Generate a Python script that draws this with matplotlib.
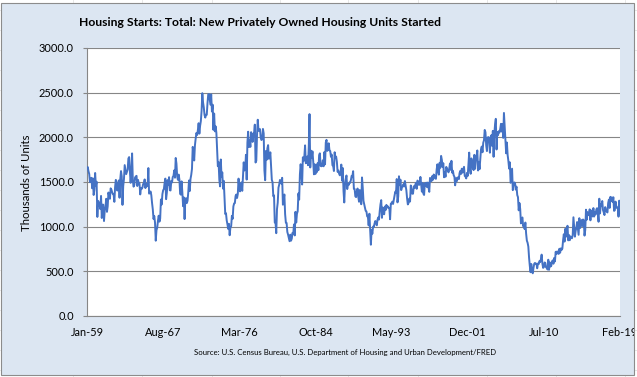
import numpy as np
import pandas as pd
import matplotlib
matplotlib.use("Agg")
import matplotlib.pyplot as plt
from matplotlib.patches import Rectangle

# monthly housing starts, thousands of units (SAAR), Jan-1959 .. Feb-2019
first_month = "1959-01"
housing_starts = [
    1657, 1667, 1620, 1590, 1498, 1503, 1547, 1430, 1540, 1355, 1416, 1601,  # 1959
    1460, 1503, 1109, 1289, 1271, 1247, 1197, 1344, 1097, 1246, 1246, 1063,  # 1960
    1183, 1226, 1312, 1166, 1228, 1382, 1335, 1312, 1429, 1415, 1385, 1365,  # 1961
    1361, 1278, 1443, 1524, 1483, 1404, 1450, 1517, 1324, 1533, 1622, 1564,  # 1962
    1244, 1456, 1534, 1689, 1641, 1588, 1614, 1639, 1763, 1779, 1622, 1491,  # 1963
    1603, 1820, 1517, 1448, 1467, 1550, 1562, 1569, 1455, 1524, 1486, 1484,  # 1964
    1361, 1433, 1423, 1438, 1478, 1488, 1529, 1432, 1482, 1452, 1460, 1656,  # 1965
    1370, 1378, 1394, 1352, 1265, 1194, 1086, 1119, 1046, 843, 961, 990,     # 1966
    1067, 1123, 1056, 1091, 1304, 1248, 1364, 1407, 1421, 1491, 1538, 1308,  # 1967
    1380, 1520, 1466, 1554, 1408, 1405, 1512, 1495, 1556, 1569, 1630, 1548,  # 1968
    1769, 1705, 1561, 1524, 1583, 1528, 1368, 1358, 1507, 1381, 1229, 1327,  # 1969
    1085, 1305, 1319, 1264, 1290, 1385, 1517, 1399, 1534, 1580, 1647, 1893,  # 1970
    1828, 1741, 1910, 1986, 2049, 2026, 2083, 2158, 2041, 2128, 2182, 2295,  # 1971
    2494, 2390, 2334, 2249, 2221, 2254, 2252, 2382, 2481, 2485, 2421, 2366,  # 1972
    2481, 2289, 2365, 2084, 2266, 2067, 2123, 2051, 1874, 1677, 1724, 1526,  # 1973
    1451, 1752, 1555, 1607, 1426, 1513, 1316, 1142, 1150, 1070, 1026, 975,   # 1974
    1032, 904, 993, 1005, 1121, 1087, 1226, 1260, 1264, 1344, 1360, 1321,    # 1975
    1367, 1538, 1421, 1395, 1459, 1495, 1401, 1550, 1720, 1629, 1641, 1804,  # 1976
    1527, 1943, 2063, 1892, 1971, 1893, 2058, 2020, 1949, 2042, 2042, 2142,  # 1977
    1718, 1738, 2032, 2197, 2075, 2070, 2092, 1996, 1970, 1981, 2094, 2044,  # 1978
    1630, 1520, 1847, 1748, 1876, 1913, 1760, 1778, 1832, 1681, 1524, 1498,  # 1979
    1341, 1350, 1047, 1051, 927, 1196, 1269, 1436, 1471, 1523, 1510, 1482,   # 1980
    1547, 1246, 1306, 1360, 1140, 1045, 1041, 940, 911, 873, 837, 910,       # 1981
    843, 866, 931, 917, 1025, 902, 1166, 1046, 1144, 1173, 1372, 1303,       # 1982
    1586, 1699, 1606, 1472, 1776, 1733, 1785, 1910, 1710, 1715, 1785, 1688,  # 1983
    1897, 2260, 1663, 1851, 1774, 1843, 1732, 1586, 1698, 1590, 1689, 1612,  # 1984
    1711, 1632, 1800, 1821, 1680, 1676, 1684, 1743, 1676, 1834, 1698, 1942,  # 1985
    1972, 1848, 1876, 1933, 1854, 1847, 1782, 1807, 1687, 1681, 1623, 1833,  # 1986
    1774, 1784, 1726, 1614, 1628, 1594, 1575, 1605, 1695, 1515, 1656, 1400,  # 1987
    1271, 1473, 1532, 1573, 1421, 1478, 1467, 1493, 1492, 1522, 1569, 1563,  # 1988
    1621, 1425, 1422, 1339, 1331, 1397, 1427, 1332, 1279, 1410, 1351, 1251,  # 1989
    1551, 1437, 1289, 1248, 1212, 1177, 1171, 1115, 1110, 1014, 1145, 969,   # 1990
    798, 965, 921, 1001, 996, 1036, 1063, 1049, 1015, 1079, 1103, 1079,      # 1991
    1176, 1250, 1297, 1099, 1214, 1145, 1139, 1226, 1186, 1244, 1214, 1227,  # 1992
    1210, 1210, 1083, 1258, 1260, 1280, 1254, 1300, 1343, 1392, 1376, 1533,  # 1993
    1272, 1337, 1564, 1465, 1526, 1409, 1439, 1450, 1474, 1450, 1511, 1455,  # 1994
    1407, 1316, 1249, 1267, 1314, 1281, 1461, 1416, 1369, 1369, 1452, 1431,  # 1995
    1467, 1491, 1424, 1516, 1504, 1467, 1472, 1557, 1475, 1392, 1489, 1370,  # 1996
    1355, 1486, 1457, 1492, 1442, 1494, 1437, 1390, 1546, 1520, 1510, 1566,  # 1997
    1525, 1584, 1567, 1540, 1536, 1641, 1698, 1614, 1582, 1715, 1660, 1792,  # 1998
    1748, 1670, 1710, 1553, 1611, 1559, 1669, 1648, 1635, 1608, 1648, 1708,  # 1999
    1636, 1737, 1604, 1626, 1575, 1559, 1463, 1541, 1507, 1549, 1551, 1532,  # 2000
    1600, 1625, 1590, 1649, 1605, 1636, 1670, 1567, 1562, 1540, 1602, 1568,  # 2001
    1698, 1829, 1642, 1592, 1764, 1717, 1655, 1633, 1804, 1648, 1753, 1788,  # 2002
    1853, 1629, 1726, 1643, 1751, 1867, 1897, 1833, 1939, 1967, 2083, 2057,  # 2003
    1911, 1846, 1998, 2003, 1981, 1828, 2002, 2024, 1905, 2072, 1782, 2042,  # 2004
    2144, 2207, 1864, 2061, 2025, 2068, 2054, 2095, 2151, 2065, 2147, 1994,  # 2005
    2273, 2119, 1969, 1821, 1942, 1802, 1737, 1650, 1720, 1491, 1570, 1649,  # 2006
    1409, 1480, 1495, 1490, 1415, 1448, 1354, 1330, 1183, 1264, 1197, 1037,  # 2007
    1084, 1103, 1005, 1013, 973, 1046, 923, 844, 820, 777, 652, 560,         # 2008
    490, 582, 505, 478, 540, 585, 594, 586, 585, 534, 588, 581,              # 2009
    614, 604, 636, 687, 588, 539, 546, 599, 594, 543, 545, 520,              # 2010
    630, 517, 600, 554, 561, 608, 623, 585, 650, 611, 719, 694,              # 2011
    723, 704, 695, 753, 708, 757, 740, 754, 847, 915, 833, 976,              # 2012
    888, 962, 1010, 847, 907, 848, 891, 883, 870, 903, 1105, 1003,           # 2013
    888, 952, 992, 1052, 985, 909, 1095, 984, 1022, 1074, 1007, 1080,        # 2014
    1071, 900, 963, 1190, 1078, 1163, 1131, 1128, 1194, 1071, 1181, 1143,    # 2015
    1114, 1208, 1113, 1160, 1136, 1192, 1207, 1149, 1055, 1313, 1149, 1250,  # 2016
    1236, 1287, 1186, 1161, 1130, 1219, 1185, 1172, 1159, 1265, 1303, 1210,  # 2017
    1334, 1290, 1327, 1276, 1329, 1177, 1184, 1280, 1229, 1209, 1214, 1112,  # 2018
    1291, 1149,                                                              # 2019
]
y_ticks = [0, 500, 1000, 1500, 2000, 2500, 3000]
label_step = 103  # Excel category axis puts a label every 103 months

title = "Housing Starts: Total: New Privately Owned Housing Units Started"
y_title = "Thousands of Units"
source = "Source: U.S. Census Bureau, U.S. Department of Housing and Urban Development/FRED"

months = pd.date_range(first_month, periods=len(housing_starts), freq="MS")
idx = np.arange(len(housing_starts))

W, H = 637, 377
fig = plt.figure(figsize=(W / 100, H / 100), dpi=100)
fig.patch.set_facecolor("white")

# faint spreadsheet cells behind the chart
for yy in range(10, H, 20):
    fig.add_artist(plt.Line2D([0, 1], [1 - yy / H] * 2, color="#e3e3e3", lw=0.6, zorder=0))
for xx in [73, 142, 212, 280, 348, 418, 487, 556, 625]:
    fig.add_artist(plt.Line2D([xx / W] * 2, [0, 1], color="#e3e3e3", lw=0.6, zorder=0))

# chart area
frame = Rectangle((1 / W, 1 - 375 / H), 633 / W, 372 / H, transform=fig.transFigure,
                  facecolor="#dce6f2", edgecolor="#8c8c8c", lw=0.8, zorder=1)
fig.add_artist(frame)

font = "Lato"
ax = fig.add_axes([87 / W, 1 - 316 / H, 533 / W, 268 / H])
ax.set_zorder(2)
ax.set_facecolor("white")

ax.plot(idx, housing_starts, color="#4472c4", lw=1.4, solid_joinstyle="round", zorder=3)

ax.set_xlim(0, len(housing_starts) - 1)
ax.set_ylim(0, 3000)
ax.set_yticks(y_ticks)
ax.set_yticklabels([f"{v:.1f}" for v in y_ticks], fontsize=7.9, family=font)
ax.yaxis.grid(True, color="#868686", lw=0.8)
ax.set_axisbelow(True)

tick_pos = list(range(0, len(housing_starts), label_step))
ax.set_xticks(tick_pos)
ax.set_xticklabels([months[i].strftime("%b-%y") for i in tick_pos], fontsize=7.9, family=font)
ax.tick_params(axis="x", length=0, pad=8)
ax.tick_params(axis="y", length=3, color="#868686", pad=6.5)

for s in ["top", "right"]:
    ax.spines[s].set_visible(False)
ax.spines["left"].set_color("#868686")
ax.spines["bottom"].set_color("#868686")
ax.spines["left"].set_linewidth(0.8)
ax.spines["bottom"].set_linewidth(0.8)

# the last date label runs off the chart frame in the original
for lab in ax.get_xticklabels():
    lab.set_clip_path(frame)

fig.text(27 / W, 1 - 183 / H, y_title, rotation=90, ha="center", va="center",
         fontsize=8.2, family=font)
fig.text(260 / W, 1 - 22 / H, title, ha="center", va="center",
         fontsize=8.7, fontweight="bold", family=font)
fig.text(345 / W, 1 - 352 / H, source, ha="center", va="center",
         fontsize=5.6, family=font)

fig.savefig("out.png", dpi=100, facecolor=fig.get_facecolor())
